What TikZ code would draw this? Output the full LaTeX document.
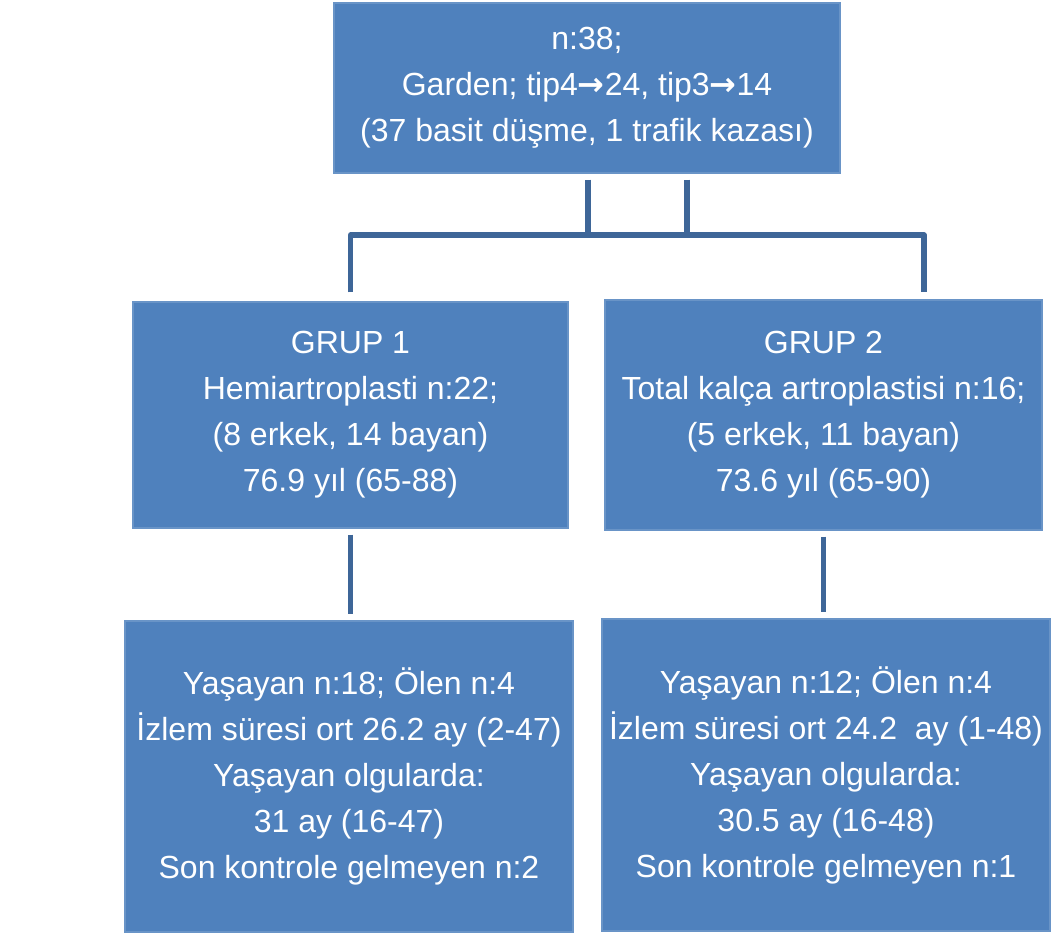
\documentclass[tikz,border=0pt]{standalone}
\usepackage{fontspec}
\setmainfont{Liberation Sans}
\newfontfamily\okfont{DejaVu Sans}
\usepackage{tikz}
\usetikzlibrary{positioning}
\definecolor{kutumavi}{RGB}{79,129,189}
\definecolor{cizgimavi}{RGB}{62,102,152}
\newcommand{\ok}{{\okfont\bfseries →}}
\tikzset{
    kutu/.style = {rectangle, fill=kutumavi, draw=kutumavi!85!white, line width=0.6pt, text=white, align=center, inner sep=0pt,
                   font=\fontsize{16pt}{23pt}\selectfont},
    baglanti/.style = {draw=cizgimavi, line width=2.6pt, line join=round}
}

\begin{document}
\begin{tikzpicture}[x=0.5pt, y=-0.5pt]
    \useasboundingbox (0,0) rectangle (1057,933);
    % Kutular
    \node (ust) [kutu, minimum width=253pt, minimum height=85pt] at (587,88)
        {n:38;\\Garden; tip4\ok24, tip3\ok14\\(37 basit düşme, 1 trafik kazası)};
    \node (grup1) [kutu, minimum width=217.5pt, minimum height=113pt] at (350.5,415)
        {GRUP 1\\Hemiartroplasti n:22;\\(8 erkek, 14 bayan)\\76.9 yıl (65-88)};
    \node (grup2) [kutu, minimum width=218.5pt, minimum height=115pt] at (823.5,415)
        {GRUP 2\\Total kalça artroplastisi n:16;\\(5 erkek, 11 bayan)\\73.6 yıl (65-90)};
    \node (sonuc1) [kutu, minimum width=224pt, minimum height=155.5pt] at (349,776.5)
        {Yaşayan n:18; Ölen n:4\\İzlem süresi ort 26.2 ay (2-47)\\Yaşayan olgularda:\\31 ay (16-47)\\Son kontrole gelmeyen n:2};
    \node (sonuc2) [kutu, minimum width=224pt, minimum height=156pt] at (826,775)
        {Yaşayan n:12; Ölen n:4\\İzlem süresi ort 24.2\ \ ay (1-48)\\Yaşayan olgularda:\\30.5 ay (16-48)\\Son kontrole gelmeyen n:1};

    % Cizgiler
    \coordinate (k1) at (588,235);
    \coordinate (k2) at (687,235);
    \coordinate (sag) at (924,235);
    \draw [baglanti] ([yshift=-3pt]k1 |- ust.south) -- (k1);
    \draw [baglanti] ([yshift=-3pt]k2 |- ust.south) -- (k2);
    \draw [baglanti] ([yshift=4.5pt]grup1.north) -- (grup1.north |- k1) -- (sag) -- ([yshift=3.5pt]sag |- grup2.north);
    \draw [baglanti] ([yshift=-3pt]grup1.south) -- ([yshift=3pt]grup1.south |- sonuc1.north);
    \draw [baglanti] ([yshift=-3pt]grup2.south) -- ([yshift=3pt]grup2.south |- sonuc2.north);
\end{tikzpicture}
\end{document}
